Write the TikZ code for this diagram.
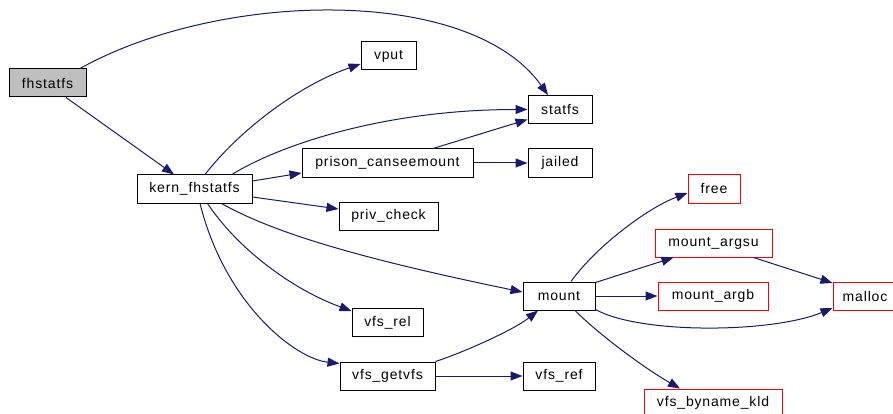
\documentclass[tikz,border=0pt]{standalone}
\usepackage{fontspec}
\setmainfont{Liberation Sans}[LetterSpace=6]
\usetikzlibrary{arrows.meta}
\definecolor{edgeblue}{RGB}{25,25,112}
\definecolor{rootgray}{RGB}{191,191,191}
\tikzset{
  fn/.style={draw=black, line width=1pt, fill=white, inner sep=0pt,
    minimum height=28pt, font=\fontsize{14}{16}\selectfont},
  ext/.style={fn, draw=red},
  root/.style={fn, fill=rootgray},
  edge/.style={draw=edgeblue, line width=1pt,
    -{Triangle[length=12pt,width=9pt]}, edgeblue},
}
\begin{document}
\begin{tikzpicture}[x=1pt, y=-1pt]
\useasboundingbox (0,0) rectangle (893,414);
\clip (0,0) rectangle (893,414);

% call graph nodes
\node[root, minimum width=77pt]  (fh)     at (47.5,83)   {fhstatfs};
\node[fn,   minimum width=115pt] (kern)   at (194.5,189) {kern\_fhstatfs};
\node[fn,   minimum width=55pt]  (vput)   at (388.5,56)  {vput};
\node[fn,   minimum width=64pt]  (statfs) at (560,109.5) {statfs};
\node[fn,   minimum width=171pt] (prison) at (387.5,163) {prison\_canseemount};
\node[fn,   minimum width=64pt]  (jailed) at (560,163)   {jailed};
\node[fn,   minimum width=99pt]  (priv)   at (388.5,216) {priv\_check};
\node[fn,   minimum width=71pt]  (vrel)   at (387.5,322.5) {vfs\_rel};
\node[fn,   minimum width=95pt]  (vget)   at (387.5,376) {vfs\_getvfs};
\node[fn,   minimum width=72pt]  (mount)  at (559,296)   {mount};
\node[fn,   minimum width=72pt]  (vref)   at (559,376)   {vfs\_ref};
\node[ext,  minimum width=52pt]  (free)   at (714,189)   {free};
\node[ext,  minimum width=117pt] (argsu)  at (713.5,243) {mount\_argsu};
\node[ext,  minimum width=110pt] (argb)   at (713,296)   {mount\_argb};
\node[ext,  minimum width=64pt]  (malloc) at (865,296)   {malloc};
\node[ext,  minimum width=138pt] (byname) at (713,403)   {vfs\_byname\_kld};

% calls
\draw[edge] ([xshift=18.5pt]fh.south) -- ([xshift=-20.5pt]kern.north);
\draw[edge] ([xshift=32.5pt]fh.north) .. controls +(140,-78) and +(-78,-110) .. ([xshift=-12pt]statfs.north);
\draw[edge] ([xshift=10.5pt]kern.north) .. controls +(35,-45) and +(-61,21) .. ([yshift=-8pt]vput.west);
\draw[edge] ([xshift=37.5pt]kern.north) .. controls +(43,-27) and +(-148,0) .. (statfs.west);
\draw[edge] ([yshift=8pt]kern.east) -- ([yshift=-10pt]prison.west);
\draw[edge] ([xshift=45.5pt]prison.north) -- ([yshift=-10pt]statfs.west);
\draw[edge] (prison.east) -- (jailed.west);
\draw[edge] ([yshift=-8pt]kern.east) -- ([yshift=7pt]priv.west);
\draw[edge] ([xshift=27pt]kern.south) .. controls +(50,28) and +(-170,-35) .. ([yshift=4pt]mount.west);
\draw[edge] ([xshift=13pt]kern.south) .. controls +(30,45) and +(-60,-22) .. ([yshift=-3pt]vrel.north west);
\draw[edge] ([xshift=5.5pt]kern.south) .. controls +(25,100) and +(-45,-5) .. ([yshift=-2pt]vget.north west);
\draw[edge] (vget.north east) .. controls +(25,-8) and +(-25,20) .. ([xshift=-21pt]mount.south);
\draw[edge] (vget.east) -- (vref.west);
\draw[edge] ([xshift=12pt]mount.north) .. controls +(25,-35) and +(-40,15) .. ([yshift=-4pt]free.west);
\draw[edge] ([yshift=-1pt]mount.north east) -- ([xshift=-40pt]argsu.south);
\draw[edge] (mount.east) -- (argb.west);
\draw[edge] ([xshift=40pt]argsu.south) -- ([yshift=13pt]malloc.west);
\draw[edge] ([yshift=1pt]mount.south east) .. controls +(45,25) and +(-60,25) .. ([yshift=-12pt]malloc.west);
\draw[edge] ([xshift=16pt]mount.south) .. controls +(25,25) and +(-35,-20) .. ([xshift=-33pt]byname.north);
\end{tikzpicture}
\end{document}
